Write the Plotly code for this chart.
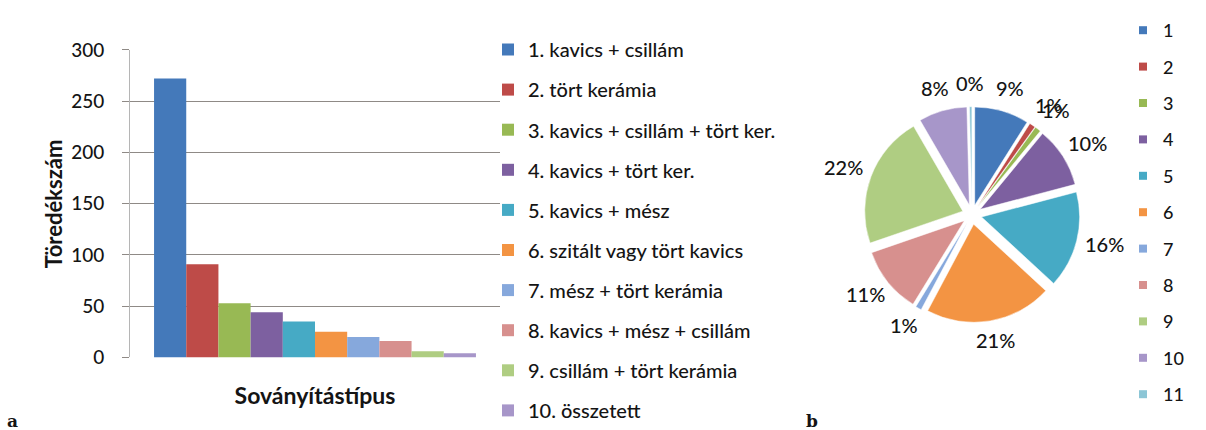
import math
import plotly.graph_objects as go

# Bar chart (a): number of sherds by temper type
temper_types = [
    "1. kavics + csillám",
    "2. tört kerámia",
    "3. kavics + csillám + tört ker.",
    "4. kavics + tört ker.",
    "5. kavics + mész",
    "6. szitált vagy tört kavics",
    "7. mész + tört kerámia",
    "8. kavics + mész + csillám",
    "9. csillám + tört kerámia",
    "10. összetett",
]
sherd_counts = [272, 91, 53, 44, 35, 25, 20, 16, 6, 4]

# Pie chart (b): share of each group
pie_labels = ["1", "2", "3", "4", "5", "6", "7", "8", "9", "10", "11"]
pie_values = [9, 1, 1, 10, 16, 21, 1, 11, 22, 8, 0.4]

palette = [
    "#4479BA", "#BE4B48", "#98B954", "#7D60A0", "#46AAC5", "#F39443",
    "#86A8DC", "#D7908E", "#AFCD82", "#A796C9", "#8CC6D6",
]

FONT = "Lato"
TEXT = "#141414"
WEIGHT = 500
W, H = 1206, 430

# pie geometry in pixels
PIE_CX, PIE_CY, PIE_HALF = 972, 214, 114
PULL = 0.1
LABEL_R = 137

fig = go.Figure()

for i, (name, val) in enumerate(zip(temper_types, sherd_counts)):
    fig.add_trace(go.Bar(
        x=[0], y=[val], name=name,
        marker=dict(color=palette[i], line=dict(width=0)),
        legend="legend", legendgroup=f"g{i}",
        hoverinfo="name+y",
    ))

fig.add_trace(go.Pie(
    labels=pie_labels, values=pie_values,
    sort=False, direction="clockwise", rotation=0,
    pull=PULL,
    marker=dict(colors=palette, line=dict(color="white", width=0.5)),
    textinfo="none",
    showlegend=False,
    domain=dict(
        x=[(PIE_CX - PIE_HALF) / W, (PIE_CX + PIE_HALF) / W],
        y=[(H - PIE_CY - PIE_HALF) / H, (H - PIE_CY + PIE_HALF) / H],
    ),
))

# legend entries for the pie slices
for i, lab in enumerate(pie_labels):
    fig.add_trace(go.Scatter(
        x=[None], y=[None], mode="markers", name=lab,
        marker=dict(symbol="square", size=8, color=palette[i]),
        legend="legend2", legendgroup=f"p{i}",
        hoverinfo="skip",
    ))

# percentage labels around the pie, placed at each slice's mid-angle
annotations = []
total = sum(pie_values)
cum = 0.0
for v in pie_values:
    mid = (cum + v / 2) / total * 2 * math.pi
    cum += v
    px = PIE_CX + LABEL_R * math.sin(mid)
    py = PIE_CY - 2 - LABEL_R * math.cos(mid)
    annotations.append(dict(
        text=f"{round(100 * v / total)}%", x=px / W, y=(H - py) / H,
        xref="paper", yref="paper", xanchor="center", yanchor="middle",
        showarrow=False, font=dict(family=FONT, size=20, color=TEXT, weight=WEIGHT),
    ))

annotations += [
    # y-axis title
    dict(text="<b>Töredékszám</b>", x=53 / W, y=(H - 203) / H, xref="paper", yref="paper",
         xanchor="center", yanchor="middle", textangle=-90, showarrow=False,
         font=dict(family=FONT, size=22, color=TEXT)),
    # panel letters
    dict(text="<b>a</b>", x=5 / W, y=-0.004, xref="paper", yref="paper",
         xanchor="left", yanchor="middle", showarrow=False,
         font=dict(family="DejaVu Serif", size=17, color=TEXT)),
    dict(text="<b>b</b>", x=804 / W, y=-0.004, xref="paper", yref="paper",
         xanchor="left", yanchor="middle", showarrow=False,
         font=dict(family="DejaVu Serif", size=17, color=TEXT)),
]

fig.update_layout(
    width=W, height=H,
    margin=dict(l=0, r=0, t=0, b=0),
    paper_bgcolor="white", plot_bgcolor="white",
    barmode="group", bargap=0.13, bargroupgap=0,
    font=dict(family=FONT, color=TEXT),
    xaxis=dict(
        domain=[130 / W, 500 / W], range=[-0.5, 0.5],
        showticklabels=False, showgrid=False, zeroline=False, showline=False,
        title=dict(text="<b>Soványítástípus</b>", font=dict(size=23, family=FONT, color=TEXT),
                   standoff=30),
    ),
    yaxis=dict(
        domain=[(H - 365) / H, (H - 40) / H], range=[0, 300],
        tickvals=[0, 50, 100, 150, 200, 250, 300],
        tickfont=dict(size=19, family=FONT, color=TEXT, weight=WEIGHT),
        ticklabelstandoff=14,
        showgrid=True, gridcolor="#8f8a86", gridwidth=1.3,
        zeroline=False,
        showline=True, linecolor="#b5b5b5", linewidth=1,
        ticks="outside", ticklen=7, tickcolor="#8f8a86",
    ),
    legend=dict(
        x=488 / W, xanchor="left", y=(H - 24) / H, yanchor="top",
        font=dict(size=20, family=FONT, color=TEXT, weight=WEIGHT),
        tracegroupgap=11.1, bgcolor="rgba(0,0,0,0)", maxheight=H,
    ),
    legend2=dict(
        x=1123 / W, xanchor="left", y=(H + 0) / H, yanchor="top",
        font=dict(size=18, family=FONT, color=TEXT, weight=WEIGHT),
        tracegroupgap=10, bgcolor="rgba(0,0,0,0)", maxheight=H,
    ),
    annotations=annotations,
)

fig.write_html("out.html")
